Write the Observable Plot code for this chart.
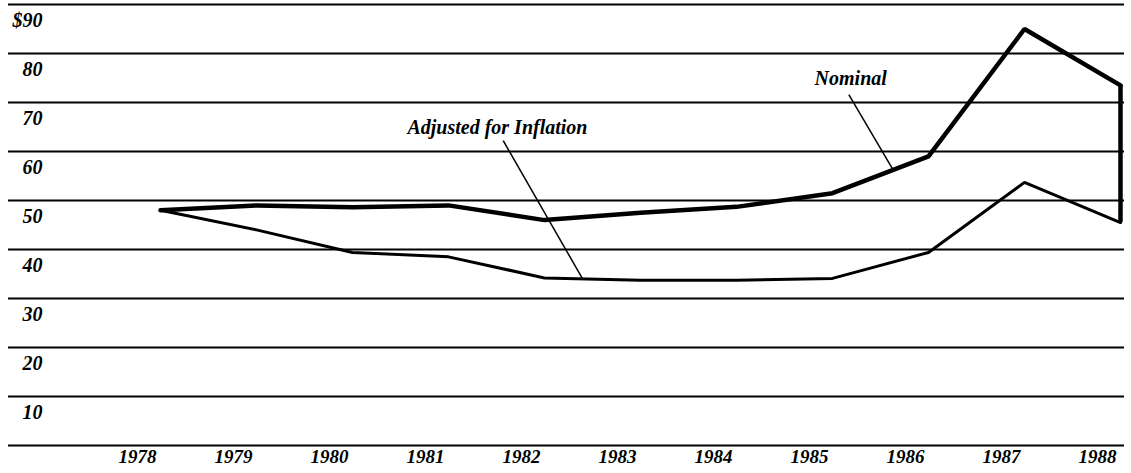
<!DOCTYPE html>
<html>
<head>
<meta charset="utf-8">
<script src="https://cdn.jsdelivr.net/npm/d3@7"></script>
<script src="https://cdn.jsdelivr.net/npm/@observablehq/plot@0.6"></script>
<style>
  html, body { margin: 0; padding: 0; background: #fff; }
  #chart svg { display: block; }
</style>
</head>
<body>
<div id="chart"></div>
<script>
// ---- data ----
const years = [1978, 1979, 1980, 1981, 1982, 1983, 1984, 1985, 1986, 1987, 1988];
const nominal = [48, 49, 48.6, 49, 46, 47.5, 48.7, 51.5, 59, 85, 73.5];
const adjusted = [48, 44, 39.4, 38.5, 34.2, 33.7, 33.7, 34.1, 39.4, 53.7, 45.5];
const yTicks = [10, 20, 30, 40, 50, 60, 70, 80, 90];
const yTickLabels = ["10", "20", "30", "40", "50", "60", "70", "80", "$90"];
const gridValues = [0, 10, 20, 30, 40, 50, 60, 70, 80, 90];
const yearLabels = ["1978", "1979", "1980", "1981", "1982", "1983", "1984", "1985", "1986", "1987", "1988"];

// annotation labels (data coordinates) and leader lines
const annotations = [
  {text: "Nominal", x: 1985.19, y: 74.9, x1: 1985.17, y1: 71.6, x2: 1985.63, y2: 56.3},
  {text: "Adjusted for Inflation", x: 1981.51, y: 64.9, x1: 1981.57, y1: 62.2, x2: 1982.4, y2: 33.9}
];

const nominalRows = years.map((yr, i) => ({year: yr, value: nominal[i]}));
const adjustedRows = years.map((yr, i) => ({year: yr, value: adjusted[i]}));
const lastIdx = years.length - 1;

const font = "'Liberation Serif', 'DejaVu Serif', serif";

const chart = Plot.plot({
  width: 1131,
  height: 473,
  marginTop: 4,
  marginBottom: 28,
  marginLeft: 8,
  marginRight: 7,
  style: {fontFamily: font, background: "#fff", color: "#000"},
  x: {domain: [1978, 1988], range: [160, 1120], axis: null},
  y: {domain: [0, 90], axis: null},
  marks: [
    Plot.ruleY(gridValues, {stroke: "#000", strokeWidth: 2}),
    // y tick labels below each grid line
    Plot.text(yTicks, {
      y: d => d,
      text: (d, i) => yTickLabels[i],
      frameAnchor: "left",
      textAnchor: "end",
      dx: 34,
      dy: 16,
      fontSize: 20,
      fontStyle: "italic",
      fontWeight: "bold",
      fill: "#000"
    }),
    // year labels
    Plot.text(years, {
      x: d => d,
      text: (d, i) => yearLabels[i],
      frameAnchor: "bottom",
      dx: -23,
      dy: 17,
      fontSize: 19,
      fontStyle: "italic",
      fontWeight: "bold",
      fill: "#000"
    }),
    Plot.line(adjustedRows, {x: "year", y: "value", stroke: "#000", strokeWidth: 3, strokeLinejoin: "miter"}),
    Plot.line(nominalRows, {x: "year", y: "value", stroke: "#000", strokeWidth: 4.5, strokeLinejoin: "miter"}),
    Plot.ruleX([years[lastIdx]], {y1: adjusted[lastIdx], y2: nominal[lastIdx], stroke: "#000", strokeWidth: 4.5}),
    // leader lines
    Plot.link(annotations, {x1: "x1", y1: "y1", x2: "x2", y2: "y2", stroke: "#000", strokeWidth: 1.5}),
    Plot.text(annotations, {
      x: "x", y: "y", text: "text",
      fontSize: 20,
      fontStyle: "italic",
      fontWeight: "bold",
      fill: "#000"
    })
  ]
});

document.getElementById("chart").appendChild(chart);
</script>
</body>
</html>
